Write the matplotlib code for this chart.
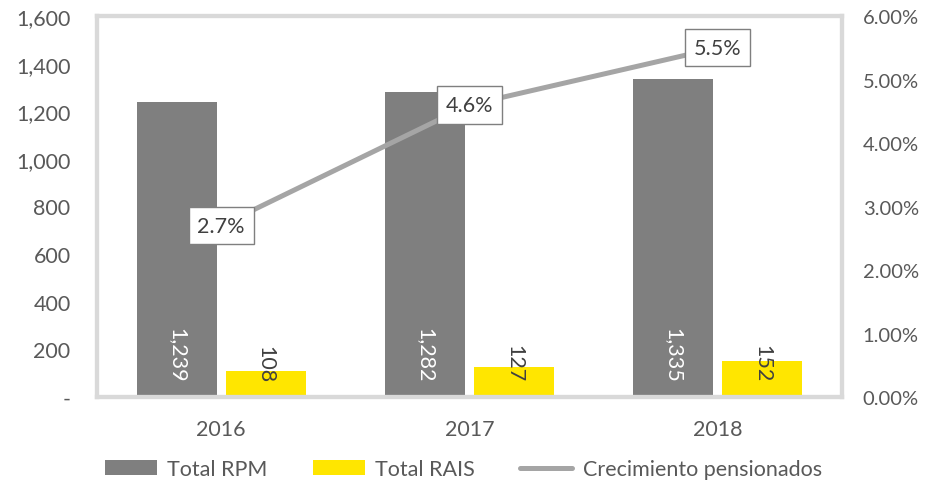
import numpy as np
import matplotlib.pyplot as plt
from matplotlib.ticker import FuncFormatter

plt.rcParams['font.family'] = ['Lato', 'DejaVu Sans']

years = ['2016', '2017', '2018']
total_rpm = [1239, 1282, 1335]
total_rais = [108, 127, 152]
crecimiento = [0.027, 0.046, 0.055]

gray = '#7f7f7f'
yellow = '#ffe600'
line_c = '#a5a5a5'
txt = '#595959'
fs = 15.5

fig = plt.figure(figsize=(9.27, 4.85), dpi=100)
ax = fig.add_axes([97/927, 1 - 398/485, 745/927, 381/485])
ax2 = ax.twinx()

x = np.arange(len(years))
w = 0.322
off = 0.179
b1 = ax.bar(x - off, total_rpm, w, color=gray, label='Total RPM', zorder=2)
b2 = ax.bar(x + off, total_rais, w, color=yellow, label='Total RAIS', zorder=2)

for xi, v in zip(x - off, total_rpm):
    ax.annotate(f'{v:,}', (xi, 0), xytext=(0, 11), textcoords='offset points',
                rotation=270, ha='center', va='bottom', color='white', fontsize=fs)
for xi, v in zip(x + off, total_rais):
    ax.annotate(f'{v:,}', (xi, 0), xytext=(0, 11), textcoords='offset points',
                rotation=270, ha='center', va='bottom', color='#404040', fontsize=fs)

ln, = ax2.plot(x, crecimiento, color=line_c, lw=3.6, solid_capstyle='round',
               label='Crecimiento pensionados', zorder=3)
for xi, v in zip(x, crecimiento):
    ax2.text(xi, v, f'{v*100:.1f}%', ha='center', va='center', fontsize=fs, color='#404040',
             bbox=dict(boxstyle='square,pad=0.4', fc='white', ec='#7f7f7f', lw=1), zorder=4)

ax.set_xlim(-0.5, 2.5)
ax.set_ylim(0, 1600)
ax.set_yticks(np.arange(0, 1601, 200))
ax.yaxis.set_major_formatter(FuncFormatter(lambda v, p: '-' if v == 0 else f'{v:,.0f}'))
ax2.set_ylim(0, 0.06)
ax2.set_yticks(np.arange(0, 0.0601, 0.01))
ax2.yaxis.set_major_formatter(FuncFormatter(lambda v, p: f'{v*100:.2f}%'))
ax.set_xticks(x)
ax.set_xticklabels(years)

for a in (ax, ax2):
    for s in a.spines.values():
        s.set_color('#d9d9d9')
        s.set_linewidth(3)
    a.tick_params(length=0, labelsize=fs, colors=txt)
ax.tick_params(axis='y', pad=19)
ax2.tick_params(axis='y', pad=15, labelsize=14.5)
ax.tick_params(axis='x', pad=16)

fig.legend(handles=[b1, b2, ln], loc='center', bbox_to_anchor=(0.5, 1 - 470/485),
           ncol=3, frameon=False, fontsize=fs, labelcolor=txt,
           handlelength=2.4, handleheight=0.65, handletextpad=0.5, columnspacing=2.1)

fig.savefig('out.png', dpi=100)
